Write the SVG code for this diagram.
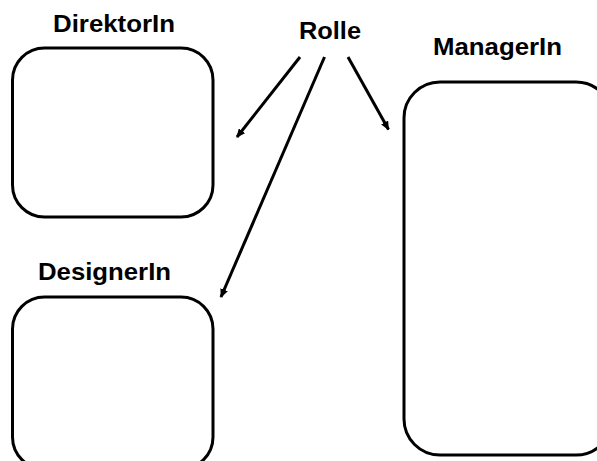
<svg xmlns="http://www.w3.org/2000/svg" width="597" height="461" viewBox="0 0 597 461">
  <style>
    .box { fill: none; stroke: #000; stroke-width: 3; }
    .label { font-family: "Liberation Sans", Arial, sans-serif; font-weight: bold; font-size: 24px; fill: #000; }
    .conn { stroke: #000; stroke-width: 3; fill: none; marker-end: url(#head); }
  </style>
  <defs>
    <marker id="head" markerUnits="userSpaceOnUse" markerWidth="10" markerHeight="8" refX="8" refY="4" orient="auto">
      <path d="M0,0 L9,4 L0,8 Z" fill="#000"/>
    </marker>
  </defs>

  <rect width="597" height="461" fill="#fff"/>

  <g id="rolle">
    <text class="label" x="299" y="39" textLength="62" lengthAdjust="spacingAndGlyphs">Rolle</text>
  </g>

  <g id="direktorin">
    <text class="label" x="53" y="32" textLength="122" lengthAdjust="spacingAndGlyphs">DirektorIn</text>
    <rect class="box" x="12.5" y="48" width="200.5" height="169" rx="32" ry="32"/>
  </g>

  <g id="designerin">
    <text class="label" x="38" y="280" textLength="133" lengthAdjust="spacingAndGlyphs">DesignerIn</text>
    <rect class="box" x="12.5" y="297" width="200.5" height="172" rx="32" ry="32"/>
  </g>

  <g id="managerin">
    <text class="label" x="433" y="55" textLength="129" lengthAdjust="spacingAndGlyphs">ManagerIn</text>
    <rect class="box" x="404" y="82" width="208" height="373" rx="36" ry="36"/>
  </g>

  <g id="connectors">
    <line class="conn" x1="300" y1="57" x2="237" y2="137"/>
    <line class="conn" x1="324.5" y1="57" x2="221" y2="297"/>
    <line class="conn" x1="348" y1="57" x2="388.5" y2="129.5"/>
  </g>
</svg>
